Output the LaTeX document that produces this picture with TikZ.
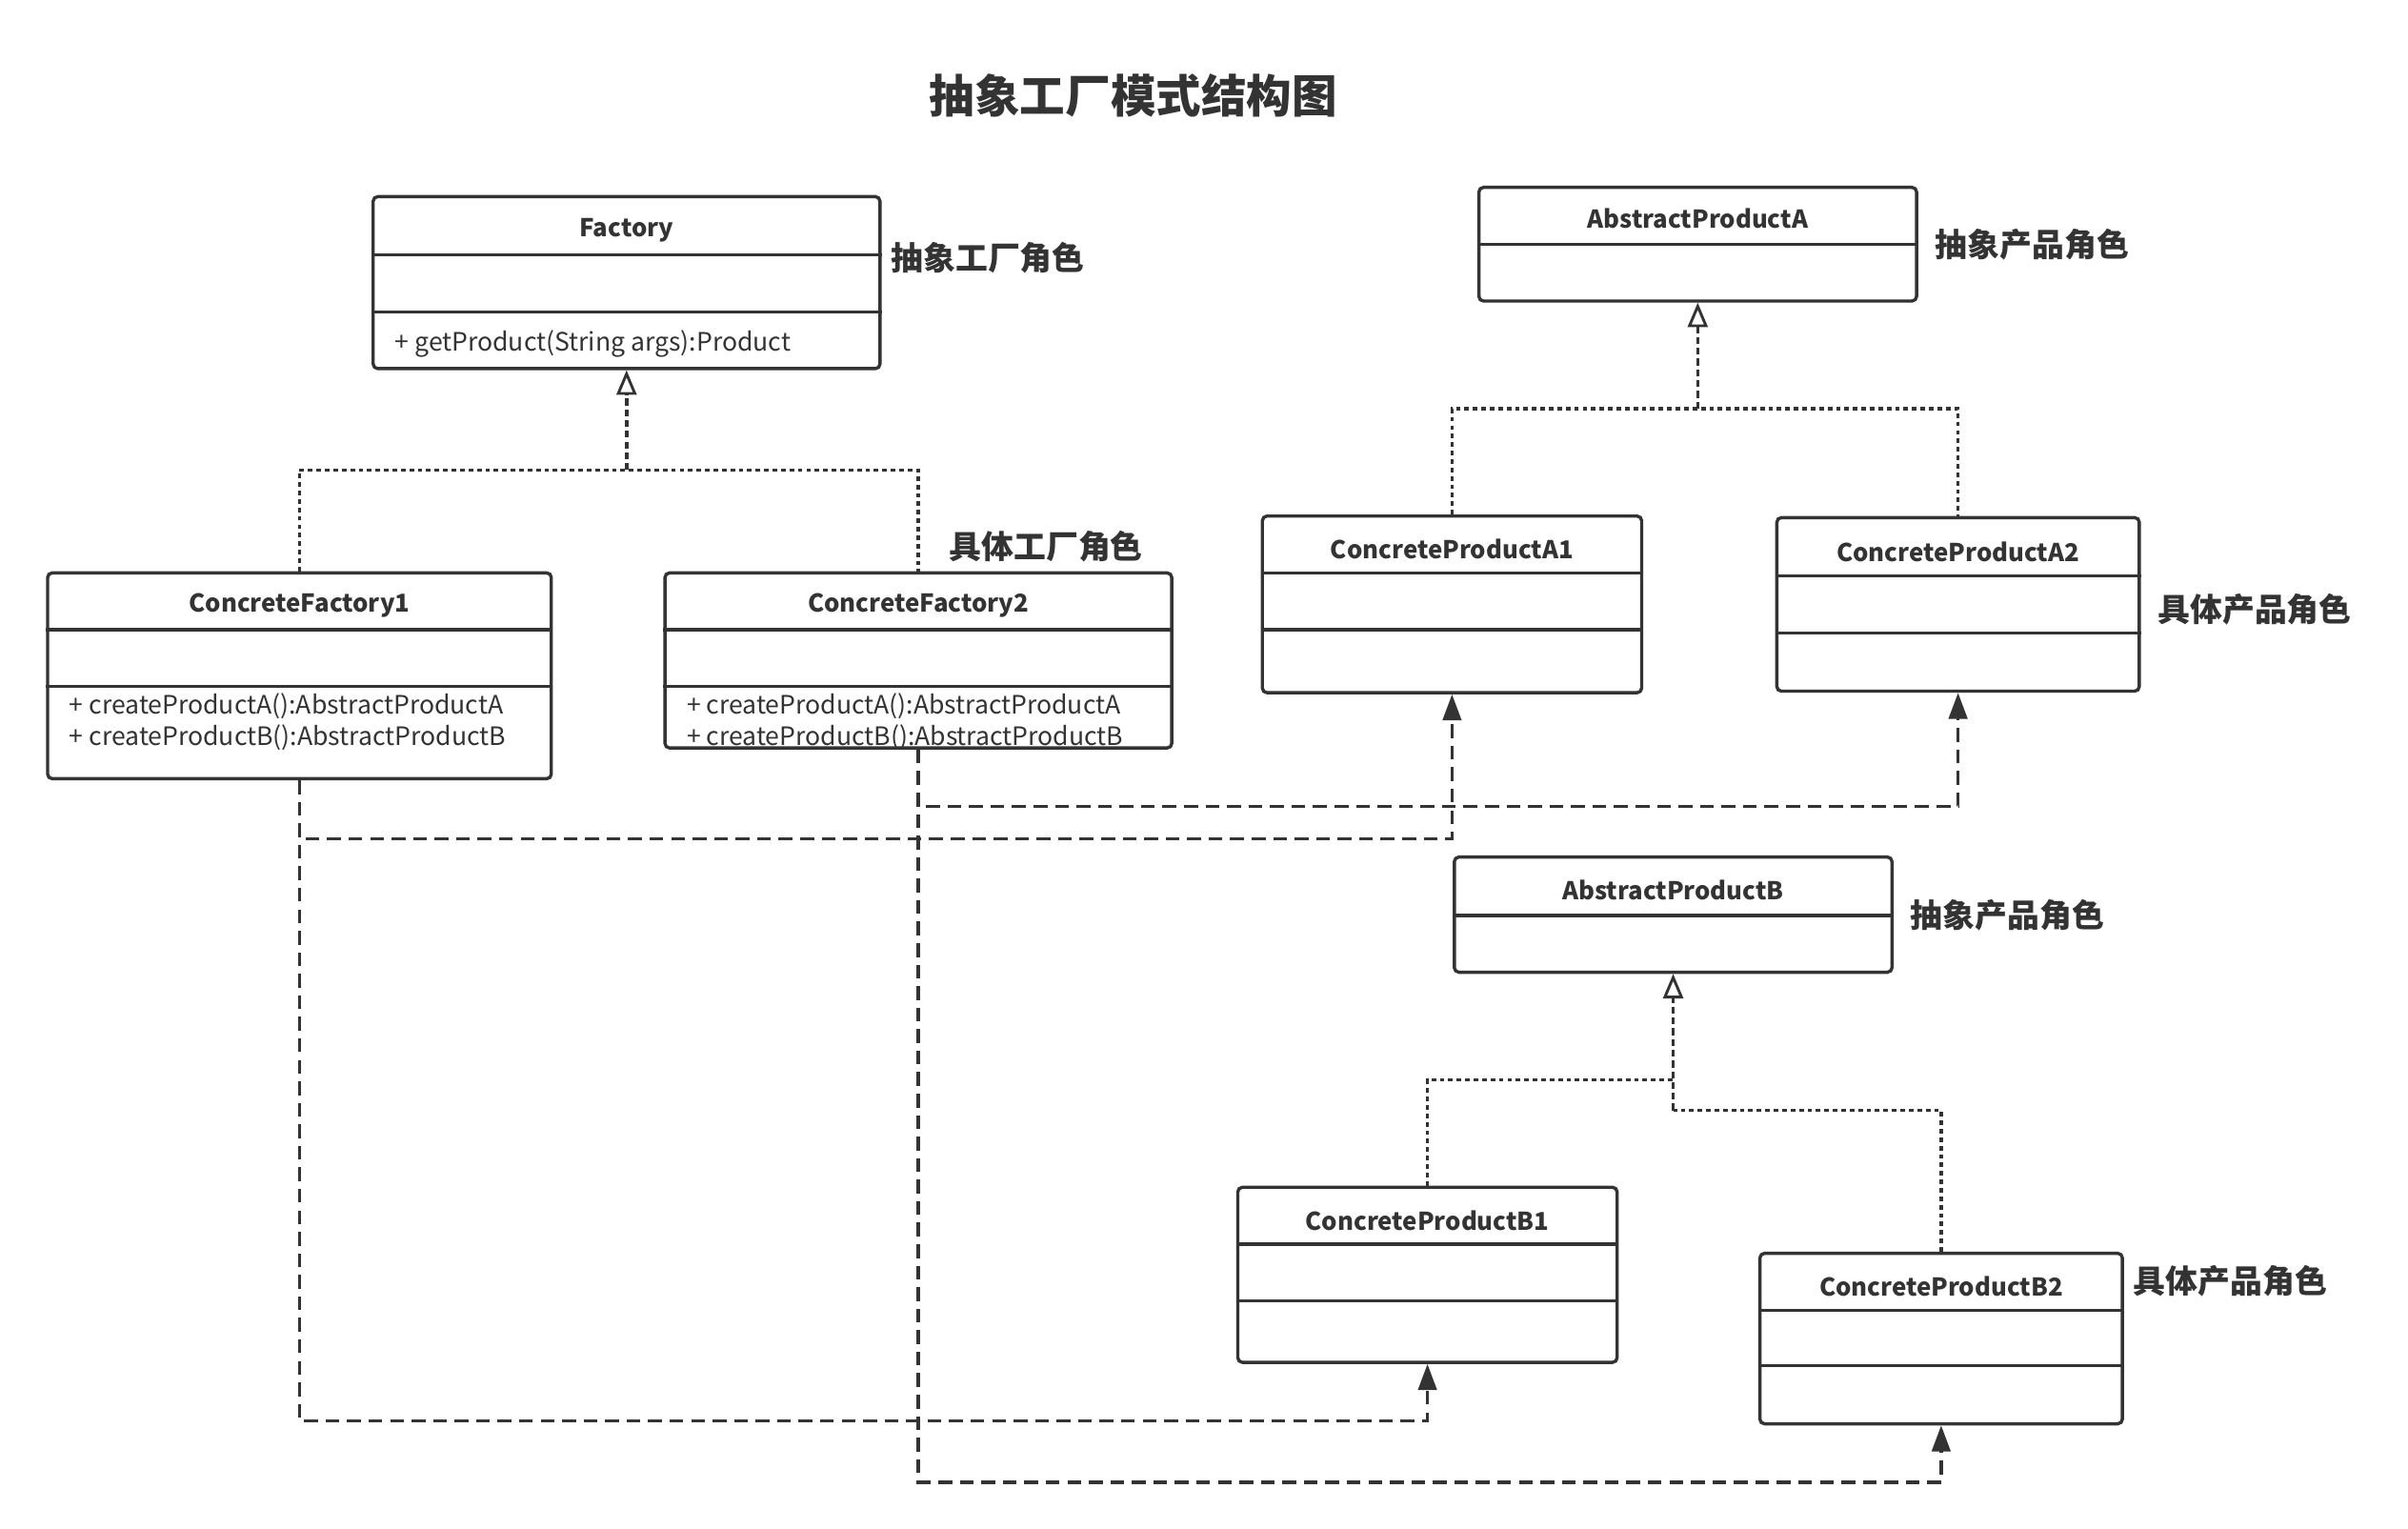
\documentclass[tikz,border=0pt]{standalone}
\usepackage{fontspec}
\setmainfont{Noto Sans CJK SC}
\usetikzlibrary{arrows.meta}
\definecolor{linegray}{HTML}{333333}
\tikzset{
  umlbox/.style={draw=linegray,line width=2.1pt,rounded corners=3pt,inner sep=0pt},
  umlline/.style={draw=linegray,line width=2.1pt},
  classname/.style={text=linegray,font=\bfseries\fontsize{16}{19}\selectfont,inner sep=0pt},
  method/.style={text=linegray,font=\fontsize{16.5}{19}\selectfont,anchor=west,inner sep=0pt},
  role/.style={text=linegray,font=\bfseries\fontsize{21}{25}\selectfont,anchor=west,inner sep=0pt},
  realize/.style={draw=linegray,line width=2.2pt,dash pattern=on 3pt off 2.5pt},
  realarrow/.style={draw=linegray,line width=2.2pt,dash pattern=on 4.5pt off 2.5pt,
    -{Triangle[open,length=16pt,width=13pt,line width=1.8pt]}},
  depend/.style={draw=linegray,line width=2.2pt,dash pattern=on 9pt off 5pt,
    -{Triangle[length=17pt,width=12pt]}}
}
\begin{document}
\begin{tikzpicture}[x=1pt,y=-1pt]
  \useasboundingbox (0,0) rectangle (1568,995);

  \node[text=linegray,font=\bfseries\fontsize{29.5}{34}\selectfont] (title) at (738,62) {抽象工厂模式结构图};

  % factories
  \node[umlbox,minimum width=330pt,minimum height=112pt] (factory) at (408,184) {};
  \draw[umlline] (factory.west |- 0,166) -- (factory.east |- 0,166);
  \draw[umlline] (factory.west |- 0,203) -- (factory.east |- 0,203);
  \node[classname] (factory-name) at (408,150) {Factory};
  \node[method] (factory-m1) at (257,224) {+ getProduct(String args):Product};
  \node[role] (factory-role) at (580,168) {抽象工厂角色};

  \node[umlbox,minimum width=328pt,minimum height=134pt] (cf1) at (195,440) {};
  \draw[umlline] (cf1.west |- 0,410) -- (cf1.east |- 0,410);
  \draw[umlline] (cf1.west |- 0,447) -- (cf1.east |- 0,447);
  \node[classname] (cf1-name) at (195,394.5) {ConcreteFactory1};
  \node[method] (cf1-m1) at (45,460) {+ createProductA():AbstractProductA};
  \node[method] (cf1-m2) at (45,480) {+ createProductB():AbstractProductB};

  \node[umlbox,minimum width=330pt,minimum height=114pt] (cf2) at (598,430) {};
  \draw[umlline] (cf2.west |- 0,410) -- (cf2.east |- 0,410);
  \draw[umlline] (cf2.west |- 0,447) -- (cf2.east |- 0,447);
  \node[classname] (cf2-name) at (598,394.5) {ConcreteFactory2};
  \node[method] (cf2-m1) at (447,460) {+ createProductA():AbstractProductA};
  \node[method] (cf2-m2) at (447,480) {+ createProductB():AbstractProductB};
  \node[role] (cf-role) at (618,356) {具体工厂角色};

  % products A
  \node[umlbox,minimum width=285pt,minimum height=74pt] (apa) at (1105.5,159) {};
  \draw[umlline] (apa.west |- 0,159) -- (apa.east |- 0,159);
  \node[classname] (apa-name) at (1105.5,142.5) {AbstractProductA};
  \node[role] (apa-role) at (1260,159) {抽象产品角色};

  \node[umlbox,minimum width=247pt,minimum height=115pt] (cpa1) at (945.5,393.5) {};
  \draw[umlline] (cpa1.west |- 0,373) -- (cpa1.east |- 0,373);
  \draw[umlline] (cpa1.west |- 0,410) -- (cpa1.east |- 0,410);
  \node[classname] (cpa1-name) at (945.5,357.5) {ConcreteProductA1};

  \node[umlbox,minimum width=236pt,minimum height=113pt] (cpa2) at (1275,393.5) {};
  \draw[umlline] (cpa2.west |- 0,375) -- (cpa2.east |- 0,375);
  \draw[umlline] (cpa2.west |- 0,412) -- (cpa2.east |- 0,412);
  \node[classname] (cpa2-name) at (1275,359.5) {ConcreteProductA2};
  \node[role] (cpa-role) at (1405,397) {具体产品角色};

  % products B
  \node[umlbox,minimum width=285pt,minimum height=75pt] (apb) at (1089.5,595.5) {};
  \draw[umlline] (apb.west |- 0,596) -- (apb.east |- 0,596);
  \node[classname] (apb-name) at (1089.5,579.5) {AbstractProductB};
  \node[role] (apb-role) at (1244,596) {抽象产品角色};

  \node[umlbox,minimum width=247pt,minimum height=114pt] (cpb1) at (929.5,830) {};
  \draw[umlline] (cpb1.west |- 0,810) -- (cpb1.east |- 0,810);
  \draw[umlline] (cpb1.west |- 0,847) -- (cpb1.east |- 0,847);
  \node[classname] (cpb1-name) at (929.5,794.5) {ConcreteProductB1};

  \node[umlbox,minimum width=236pt,minimum height=111pt] (cpb2) at (1264,871.5) {};
  \draw[umlline] (cpb2.west |- 0,853) -- (cpb2.east |- 0,853);
  \draw[umlline] (cpb2.west |- 0,889) -- (cpb2.east |- 0,889);
  \node[classname] (cpb2-name) at (1264,837.5) {ConcreteProductB2};
  \node[role] (cpb-role) at (1389,834) {具体产品角色};

  % realization
  \coordinate (fjoin) at (408,306);
  \draw[realize] (cf1.north) |- (fjoin) -| (cf2.north);
  \draw[realarrow] (fjoin) -- (factory.south);

  \coordinate (ajoin) at (1105.5,266);
  \draw[realize] (cpa1.north) |- (ajoin) -| (cpa2.north);
  \draw[realarrow] (ajoin) -- (apa.south);

  \coordinate (bjoin1) at (1089.5,703);
  \coordinate (bjoin2) at (1089.5,723);
  \draw[realize] (cpb1.north) |- (bjoin1);
  \draw[realize] (cpb2.north) |- (bjoin2);
  \draw[realarrow] (bjoin2) -- (apb.south);

  % dependencies
  \draw[depend] (cf1.south) -- ++(0,38) -| (cpa1.south);
  \draw[depend] (cf2.south) -- ++(0,37) -| (cpa2.south);
  \draw[depend] (cf1.south) -- ++(0,417) -| (cpb1.south);
  \draw[depend] (cf2.south) -- ++(0,477) -| (cpb2.south);
\end{tikzpicture}
\end{document}
